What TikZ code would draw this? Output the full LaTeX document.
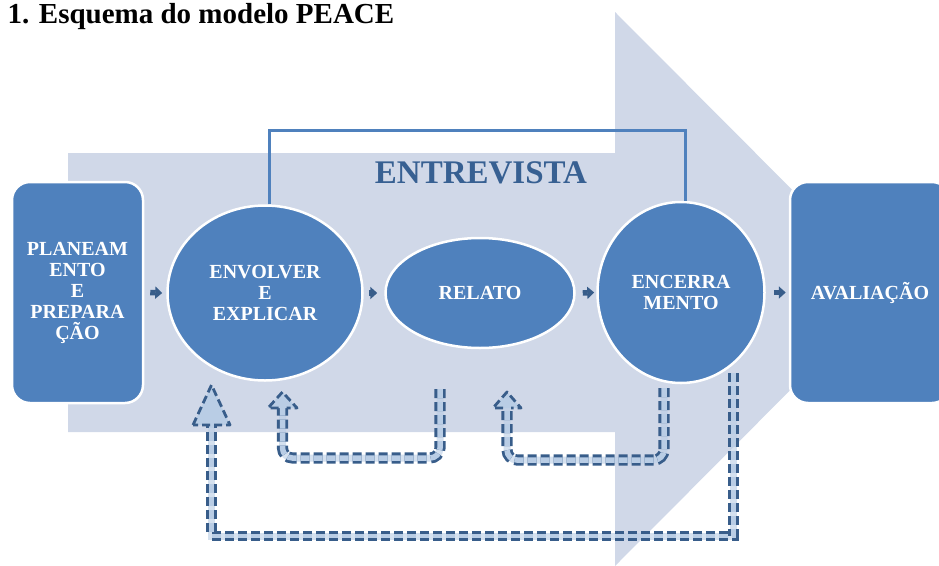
\documentclass[tikz,border=0pt]{standalone}
\usepackage{fontspec}
\setmainfont{Liberation Serif}
\usepackage{tikz}
\usetikzlibrary{shapes.geometric, arrows.meta}

\definecolor{azul}{RGB}{79,129,189}
\definecolor{cinza}{RGB}{208,216,232}
\definecolor{escuro}{RGB}{56,93,138}
\definecolor{claro}{RGB}{185,205,229}
\definecolor{titazul}{RGB}{55,96,146}

\begin{document}
\begin{tikzpicture}[x=1pt, y=-1pt,
	caixa/.style = {draw=white, line width=2.5pt, fill=azul, rounded corners=18pt, text=white, align=center, font=\fontsize{20}{21}\selectfont\bfseries},
	elipse/.style = {ellipse, draw=white, line width=2.5pt, fill=azul, text=white, align=center, inner sep=0pt, font=\fontsize{20}{21}\selectfont\bfseries},
	seta/.style = {draw=escuro, line width=5.5pt, -{Triangle[width=12pt, length=7pt]}},
	linha/.style = {draw=azul, line width=3pt},
	fundo/.style = {draw=claro, line width=7pt, opacity=0.6},
	volta/.style = {draw=escuro, line width=2.8pt, dash pattern=on 9pt off 4pt, double=claro, double distance=4.5pt},
	ponta/.style = {draw=escuro, fill=claro, line width=2.8pt, dash pattern=on 8pt off 4pt, line join=round}]

	\useasboundingbox (0,0) rectangle (939,565);

	% seta grande de fundo
	\fill[cinza] (68,153) -- (615,153) -- (615,12) -- (891,289) -- (615,566) -- (615,432) -- (68,432) -- cycle;

	\node[anchor=base west, font=\fontsize{29}{31}\selectfont\bfseries] (titulo) at (4,23) {1. Esquema do modelo PEACE};
	\node[text=titazul, font=\fontsize{33}{36}\selectfont\bfseries] (entrevista) at (481,172.5) {ENTREVISTA};

	\node[caixa, minimum width=131pt, minimum height=221pt] (plan) at (77.5,292.5) {PLANEAM\\ENTO\\E\\PREPARA\\ÇÃO};
	\node[elipse, minimum width=195pt, minimum height=175pt] (env) at (265,293) {ENVOLVER\\E\\EXPLICAR};
	\node[elipse, minimum width=189pt, minimum height=110pt] (rel) at (480,293) {RELATO};
	\node[elipse, minimum width=167pt, minimum height=181pt] (enc) at (681,292.5) {ENCERRA\\MENTO};
	\node[caixa, minimum width=160pt, minimum height=221pt] (aval) at (870,292.5) {AVALIAÇÃO};

	\coordinate (topo) at (480,130);
	\draw[linha] ([xshift=4pt]env.north) |- (topo) -| ([xshift=4pt]enc.north);

	\draw[seta] ([xshift=6pt]plan.east) -- ([xshift=-4pt]env.west);
	\draw[seta] ([xshift=5pt]env.east) -- ([xshift=-7pt]rel.west);
	\draw[seta] ([xshift=7pt]rel.east) -- ([xshift=-2pt]enc.west);
	\draw[seta] ([xshift=8pt]enc.east) -- ([xshift=-3pt]aval.west);

	\coordinate (s1) at (733.5,373);
	\coordinate (b1) at (470,536);
	\coordinate (e1) at (211.5,425);
	\coordinate (s2) at (440,389);
	\coordinate (b2) at (360,458);
	\coordinate (e2) at (282.5,408);
	\coordinate (s3) at (664,388);
	\coordinate (b3) at (585,460);
	\coordinate (e3) at (507,408);

	\draw[fundo] (s1) |- (b1) -| (e1);
	\draw[volta] (s1) |- (b1) -| (e1);
	\filldraw[ponta] (193,425) -- (211.5,385) -- (230,425) -- cycle;

	\draw[fundo, rounded corners=10pt] (s2) |- (b2) -| (e2);
	\draw[volta, double distance=5.5pt, rounded corners=10pt] (s2) |- (b2) -| (e2);
	\filldraw[ponta] (278.5,408) -- (268,408) -- (282.5,392) -- (297,408) -- (286.5,408);

	\draw[fundo, rounded corners=10pt] (s3) |- (b3) -| (e3);
	\draw[volta, double distance=5.5pt, rounded corners=10pt] (s3) |- (b3) -| (e3);
	\filldraw[ponta] (503,408) -- (493,408) -- (507,392) -- (521,408) -- (511,408);

\end{tikzpicture}
\end{document}
